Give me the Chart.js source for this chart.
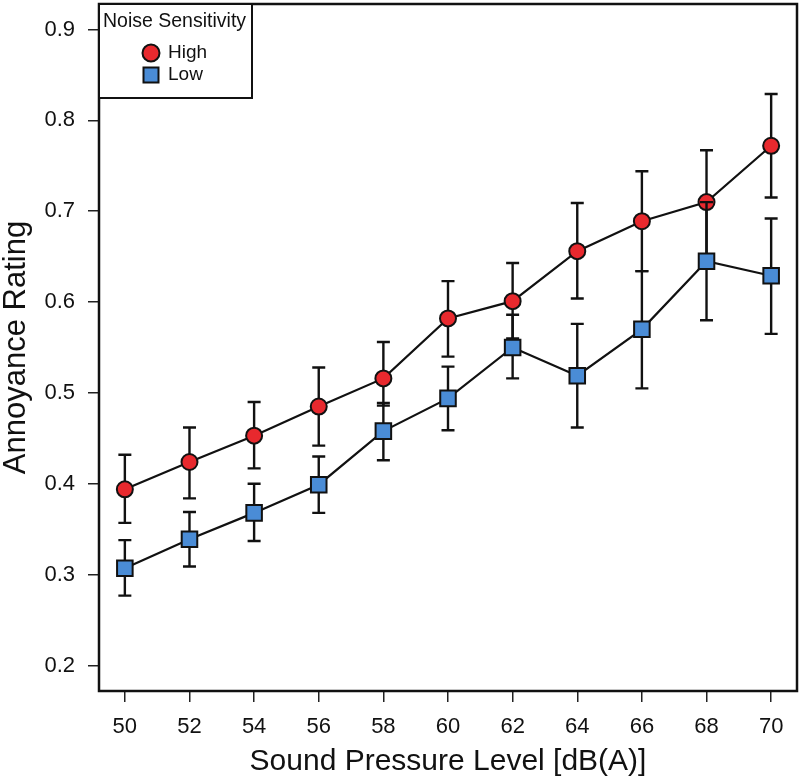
<!DOCTYPE html>
<html>
<head>
<meta charset="utf-8">
<script src="https://cdn.jsdelivr.net/npm/chart.js@4/dist/chart.umd.min.js"></script>
<style>
  body { margin: 0; background: #fff; }
</style>
</head>
<body>
<canvas id="myChart" width="800" height="778"></canvas>
<script>
// sound pressure levels (x) and tick labels
const levels = [50, 52, 54, 56, 58, 60, 62, 64, 66, 68, 70];
const yTicks = [0.2, 0.3, 0.4, 0.5, 0.6, 0.7, 0.8, 0.9];

// high noise sensitivity: mean and error bar ends
const highMean  = [0.394, 0.424, 0.453, 0.485, 0.516, 0.582, 0.601, 0.656, 0.689, 0.710, 0.772];
const highLower = [0.357, 0.384, 0.417, 0.442, 0.486, 0.540, 0.560, 0.604, 0.634, 0.652, 0.715];
const highUpper = [0.432, 0.462, 0.490, 0.528, 0.556, 0.623, 0.643, 0.709, 0.744, 0.767, 0.829];

// low noise sensitivity
const lowMean  = [0.307, 0.339, 0.368, 0.399, 0.458, 0.494, 0.550, 0.519, 0.570, 0.645, 0.629];
const lowLower = [0.277, 0.309, 0.337, 0.368, 0.426, 0.459, 0.516, 0.462, 0.505, 0.580, 0.565];
const lowUpper = [0.338, 0.369, 0.400, 0.430, 0.489, 0.529, 0.586, 0.576, 0.634, 0.710, 0.692];

const FONT = "'Liberation Sans', Arial, sans-serif";
const RED = "#E8292E";
const BLUE = "#4A8CD6";

function pts(ys) {
  return levels.map((x, i) => ({ x: x, y: ys[i] }));
}

// error bars, drawn just before each dataset so later series sit on top
const errorBars = {
  id: "errorBars",
  beforeDatasetDraw(chart, args) {
    const ds = chart.data.datasets[args.index];
    const xs = chart.scales.x, ys = chart.scales.y;
    const ctx = chart.ctx;
    ctx.save();
    ctx.strokeStyle = "#111";
    ctx.lineWidth = 2.4;
    ds.lower.forEach((lo, i) => {
      const px = xs.getPixelForValue(levels[i]);
      const y1 = ys.getPixelForValue(lo);
      const y2 = ys.getPixelForValue(ds.upper[i]);
      ctx.beginPath();
      ctx.moveTo(px, y1); ctx.lineTo(px, y2);
      ctx.moveTo(px - 6.5, y1); ctx.lineTo(px + 6.5, y1);
      ctx.moveTo(px - 6.5, y2); ctx.lineTo(px + 6.5, y2);
      ctx.stroke();
    });
    ctx.restore();
  }
};

// plot frame and boxed legend
const frameLegend = {
  id: "frameLegend",
  afterDraw(chart) {
    const ctx = chart.ctx;
    const a = chart.chartArea;
    ctx.save();
    ctx.strokeStyle = "#111";
    ctx.lineWidth = 2.5;
    ctx.strokeRect(a.left, a.top, a.right - a.left, a.bottom - a.top);

    const bx = a.left, by = a.top, bw = 153, bh = 94;
    ctx.fillStyle = "#fff";
    ctx.fillRect(bx, by, bw, bh);
    ctx.lineWidth = 2;
    ctx.strokeRect(bx, by, bw, bh);

    ctx.fillStyle = "#111";
    ctx.textBaseline = "middle";
    ctx.textAlign = "left";
    ctx.font = "19.5px " + FONT;
    ctx.fillText("Noise Sensitivity", bx + 4, by + 18);

    chart.data.datasets.forEach((ds, i) => {
      const cx = bx + 52, cy = by + 49 + i * 22;
      ctx.fillStyle = ds.pointBackgroundColor;
      ctx.strokeStyle = "#111";
      ctx.lineWidth = 2;
      ctx.beginPath();
      if (ds.pointStyle === "circle") {
        ctx.arc(cx, cy, 8.5, 0, Math.PI * 2);
      } else {
        ctx.rect(cx - 7.5, cy - 7.5, 15, 15);
      }
      ctx.fill();
      ctx.stroke();
      ctx.fillStyle = "#111";
      ctx.font = "19px " + FONT;
      ctx.fillText(ds.label, bx + 69, cy);
    });
    ctx.restore();
  }
};

const config = {
  type: "line",
  data: {
    datasets: [
      {
        label: "High",
        data: pts(highMean),
        lower: highLower,
        upper: highUpper,
        borderColor: "#111",
        borderWidth: 2.2,
        pointStyle: "circle",
        pointRadius: 8,
        pointBorderWidth: 2,
        pointBorderColor: "#111",
        pointBackgroundColor: RED,
        order: 1
      },
      {
        label: "Low",
        data: pts(lowMean),
        lower: lowLower,
        upper: lowUpper,
        borderColor: "#111",
        borderWidth: 2.2,
        pointStyle: "rect",
        pointRadius: 11,
        pointBorderWidth: 2,
        pointBorderColor: "#111",
        pointBackgroundColor: BLUE,
        order: 0
      }
    ]
  },
  options: {
    responsive: false,
    animation: false,
    devicePixelRatio: 1,
    layout: { autoPadding: false, padding: { top: 4, right: 3, left: 0, bottom: 0 } },
    plugins: {
      legend: { display: false },
      tooltip: { enabled: false }
    },
    scales: {
      x: {
        type: "linear",
        min: 49.2,
        max: 70.8,
        afterBuildTicks: (s) => { s.ticks = levels.map(v => ({ value: v })); },
        afterFit: (s) => { s.height = 87; s.paddingLeft = 0; s.paddingRight = 0; },
        border: { display: false },
        grid: { drawOnChartArea: false, drawTicks: true, tickLength: 11, color: "#222", lineWidth: 1.5 },
        ticks: { color: "#111", font: { family: FONT, size: 22 }, padding: 12, maxRotation: 0 },
        title: {
          display: true,
          text: "Sound Pressure Level [dB(A)]",
          color: "#111",
          font: { family: FONT, size: 30, lineHeight: 1.1 },
          padding: { top: 0, bottom: 0 }
        }
      },
      y: {
        min: 0.172,
        max: 0.928,
        afterBuildTicks: (s) => { s.ticks = yTicks.map(v => ({ value: v })); },
        afterFit: (s) => { s.width = 99; s.paddingTop = 0; s.paddingBottom = 0; },
        border: { display: false },
        grid: { drawOnChartArea: false, drawTicks: true, tickLength: 11, color: "#222", lineWidth: 1.5 },
        ticks: {
          color: "#111",
          font: { family: FONT, size: 22 },
          padding: 13,
          callback: (v) => v.toFixed(1)
        },
        title: {
          display: true,
          text: "Annoyance Rating",
          color: "#111",
          font: { family: FONT, size: 31, lineHeight: 1.05 },
          padding: { top: 0, bottom: 0 }
        }
      }
    }
  },
  plugins: [errorBars, frameLegend]
};

const myChart = new Chart(document.getElementById("myChart"), config);
</script>
</body>
</html>
